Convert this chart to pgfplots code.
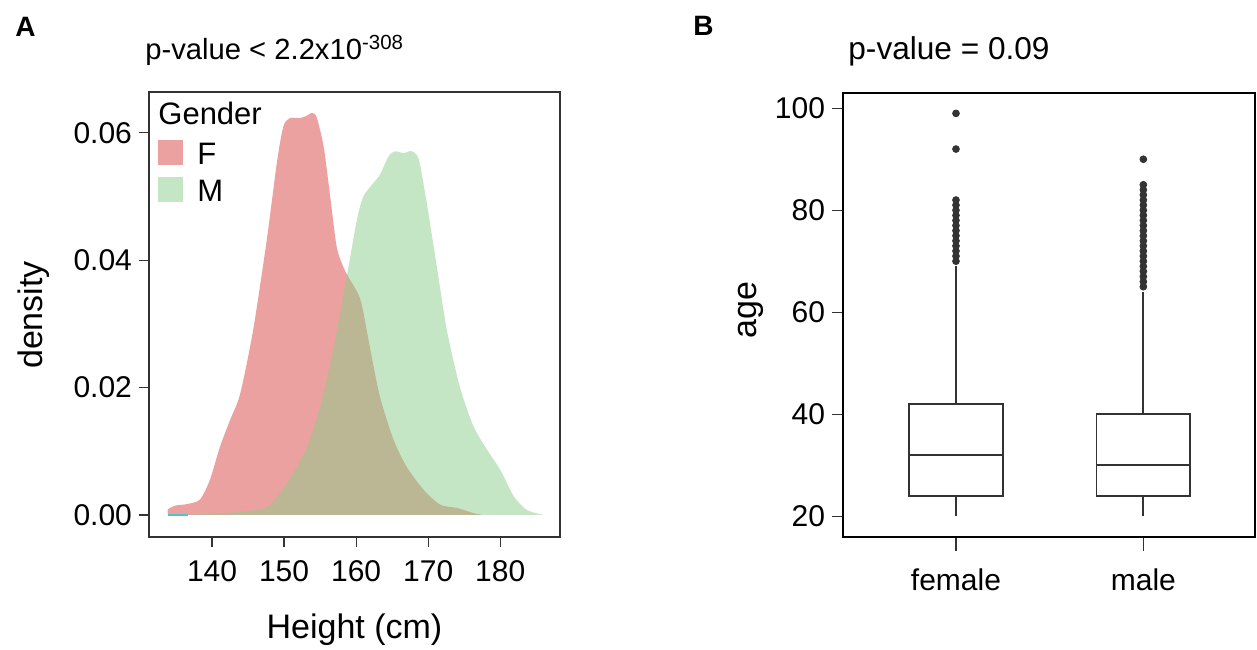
\documentclass[border=0pt]{standalone}
\usepackage{fontspec}
\setmainfont{Liberation Sans}
\usepackage{pgfplots}
\pgfplotsset{compat=1.18}
\usepgfplotslibrary{statistics}
\definecolor{fcol}{HTML}{ECA1A1}
\definecolor{mcol}{HTML}{8BCD89}
\definecolor{tickgray}{HTML}{333333}
\definecolor{cyanish}{HTML}{4FC3C6}
\newcommand\tickfont{\fontsize{15}{18}\selectfont}
\newcommand\labfont{\fontsize{17}{20}\selectfont}

\pgfplotsset{
  panel/.style={
    scale only axis,
    anchor=south west,
    tick align=outside,
    major tick length=5pt,
    tick style={tickgray, line width=0.6pt},
    xtick pos=left, ytick pos=left,
    ticklabel style={font=\tickfont, text=black},
    xticklabel style={yshift=-3pt},
    /pgf/number format/assume math mode=true,
  }
}

\begin{document}
\begin{tikzpicture}
\path[use as bounding box] (0,0) rectangle (628.5pt,324.5pt);

% ---- panel A: height densities
\begin{axis}[panel,
  at={(74.5pt,56pt)}, width=205.5pt, height=222.5pt,
  xmin=131.25, xmax=188.3, ymin=-0.00346, ymax=0.0664,
  xtick={140,150,...,180}, ytick={0,0.02,0.04,0.06},
  scaled y ticks=false,
  yticklabel style={/pgf/number format/.cd, fixed, fixed zerofill, precision=2},
  axis line style={tickgray, line width=0.6pt},
  xlabel={Height (cm)}, ylabel={density},
  xlabel style={font=\labfont, at={(axis description cs:0.5,-0.209)}, anchor=center},
  ylabel style={font=\labfont, at={(axis description cs:-0.28,0.499)}, anchor=center},
  legend style={at={(axis description cs:0.0219,0.892)}, anchor=north west,
    draw=none, fill=none, inner sep=0pt, row sep=1.25pt, column sep=7pt,
    font=\fontsize{15.5}{18}\selectfont,
    nodes={inner sep=0pt, text height=11pt, text depth=0pt}},
  legend cell align=left,
]
\addplot[fill=fcol, draw=none, smooth, tension=0.45,
  legend image code/.code={\fill[fcol] (0pt,-0.75pt) rectangle (12.5pt,11.75pt);}]
  coordinates {
  (133.9,0) (133.9,0.0009) (135,0.0015) (136.5,0.0017) (138.3,0.0024)
  (139.7,0.0055) (141.1,0.0107) (142.5,0.0149) (143.9,0.019) (145.7,0.029)
  (147.6,0.0432) (149.0,0.0553) (149.9,0.061) (150.8,0.0623) (152.2,0.0623)
  (153.2,0.0627) (153.8,0.0631) (154.5,0.0625) (155.5,0.0578) (156.4,0.050)
  (157.3,0.0421) (158.2,0.039) (158.9,0.0374) (160.6,0.0338) (161.9,0.0264)
  (163.3,0.0186) (165.2,0.0118) (167.0,0.0076) (169.4,0.0039) (171.7,0.0016)
  (174.0,0.0011) (176.3,0.0003) (177.5,0)
  } \closedcycle;
\addlegendentry{\raisebox{5pt}{F}}
\addplot[fill=mcol, fill opacity=0.5, draw=none, smooth, tension=0.45,
  legend image code/.code={\fill[mcol, fill opacity=0.5] (0pt,-0.75pt) rectangle (12.5pt,11.75pt);}]
  coordinates {
  (136,0) (140,0.0002) (143.9,0.0005) (147.6,0.0012) (149.4,0.0034)
  (151.3,0.0066) (153.2,0.0107) (155,0.017) (156.9,0.0264) (158.7,0.0374)
  (160.1,0.0463) (161,0.050) (162.4,0.0521) (163.3,0.0534) (164.5,0.0563)
  (165.4,0.0571) (166.6,0.0568) (167.7,0.0571) (168.7,0.0558) (169.8,0.049)
  (171.2,0.039) (172.6,0.029) (174.4,0.0201) (176.3,0.0139) (178.2,0.0102)
  (180,0.0071) (181.9,0.0029) (183.7,0.0008) (186,0)
  } \closedcycle;
\addlegendentry{\raisebox{5pt}{M}}
\addplot[cyanish, line width=0.8pt, forget plot] coordinates {(133.9,0) (136.6,0)};
\node[anchor=base west, font=\fontsize{15.5}{18}\selectfont, inner sep=0pt]
  at (axis description cs:0.0219,0.928) {Gender};
\end{axis}

% ---- panel B: age boxplots
\begin{axis}[panel,
  at={(421.5pt,56pt)}, width=206pt, height=222pt,
  xmin=0.397, xmax=2.596, ymin=15.9, ymax=103,
  xtick={1,2}, xticklabels={female,male},
  ytick={20,40,...,100},
  major tick length=5.5pt,
  xticklabel style={yshift=-4pt},
  axis line style={black, line width=1.2pt},
  ylabel={age},
  ylabel style={font=\labfont, at={(axis description cs:-0.223,0.511)}, anchor=center},
]
\addplot[draw=tickgray, fill=white, line width=0.9pt, solid,
  mark=*, mark size=1.7pt, mark options={fill=tickgray, draw=tickgray, line width=0.4pt},
  boxplot/draw direction=y,
  boxplot prepared={median=32, upper quartile=42, lower quartile=24,
    upper whisker=69, lower whisker=20, draw position=1,
    box extend=0.5, whisker extend=0}]
  coordinates {(1,70)(1,71)(1,72)(1,73)(1,74)(1,75)(1,76)(1,77)(1,78)(1,79)
    (1,80)(1,81)(1,82)(1,92)(1,99)};
\addplot[draw=tickgray, fill=white, line width=0.9pt, solid,
  mark=*, mark size=1.7pt, mark options={fill=tickgray, draw=tickgray, line width=0.4pt},
  boxplot/draw direction=y,
  boxplot prepared={median=30, upper quartile=40, lower quartile=24,
    upper whisker=64, lower whisker=20, draw position=2,
    box extend=0.5, whisker extend=0}]
  coordinates {(2,65)(2,66)(2,67)(2,68)(2,69)(2,70)(2,71)(2,72)(2,73)(2,74)
    (2,75)(2,76)(2,77)(2,78)(2,79)(2,80)(2,81)(2,82)(2,83)(2,84)(2,85)(2,90)};
\end{axis}
% x tick marks of panel B (at x = 1 and 2 of its axis)
\draw[draw=tickgray, line width=0.8pt] (478pt,55.5pt) -- (478pt,49pt);
\draw[draw=tickgray, line width=0.8pt] (571.67pt,55.5pt) -- (571.67pt,49pt);

% ---- panel letters and titles
\node[anchor=base west, inner sep=0pt, font=\fontsize{14}{16}\selectfont\bfseries] at (7.5pt,306pt) {A};
\node[anchor=base west, inner sep=0pt, font=\fontsize{14}{16}\selectfont\bfseries] at (346.5pt,306.5pt) {B};
\node[anchor=base west, inner sep=0pt, font=\fontsize{14.6}{18}\selectfont] at (72.5pt,294.5pt)
  {p-value < 2.2x10\textsuperscript{-308}};
\node[anchor=base west, inner sep=0pt, font=\fontsize{15.8}{18}\selectfont] at (424pt,294.5pt)
  {p-value = 0.09};
\end{tikzpicture}
\end{document}
